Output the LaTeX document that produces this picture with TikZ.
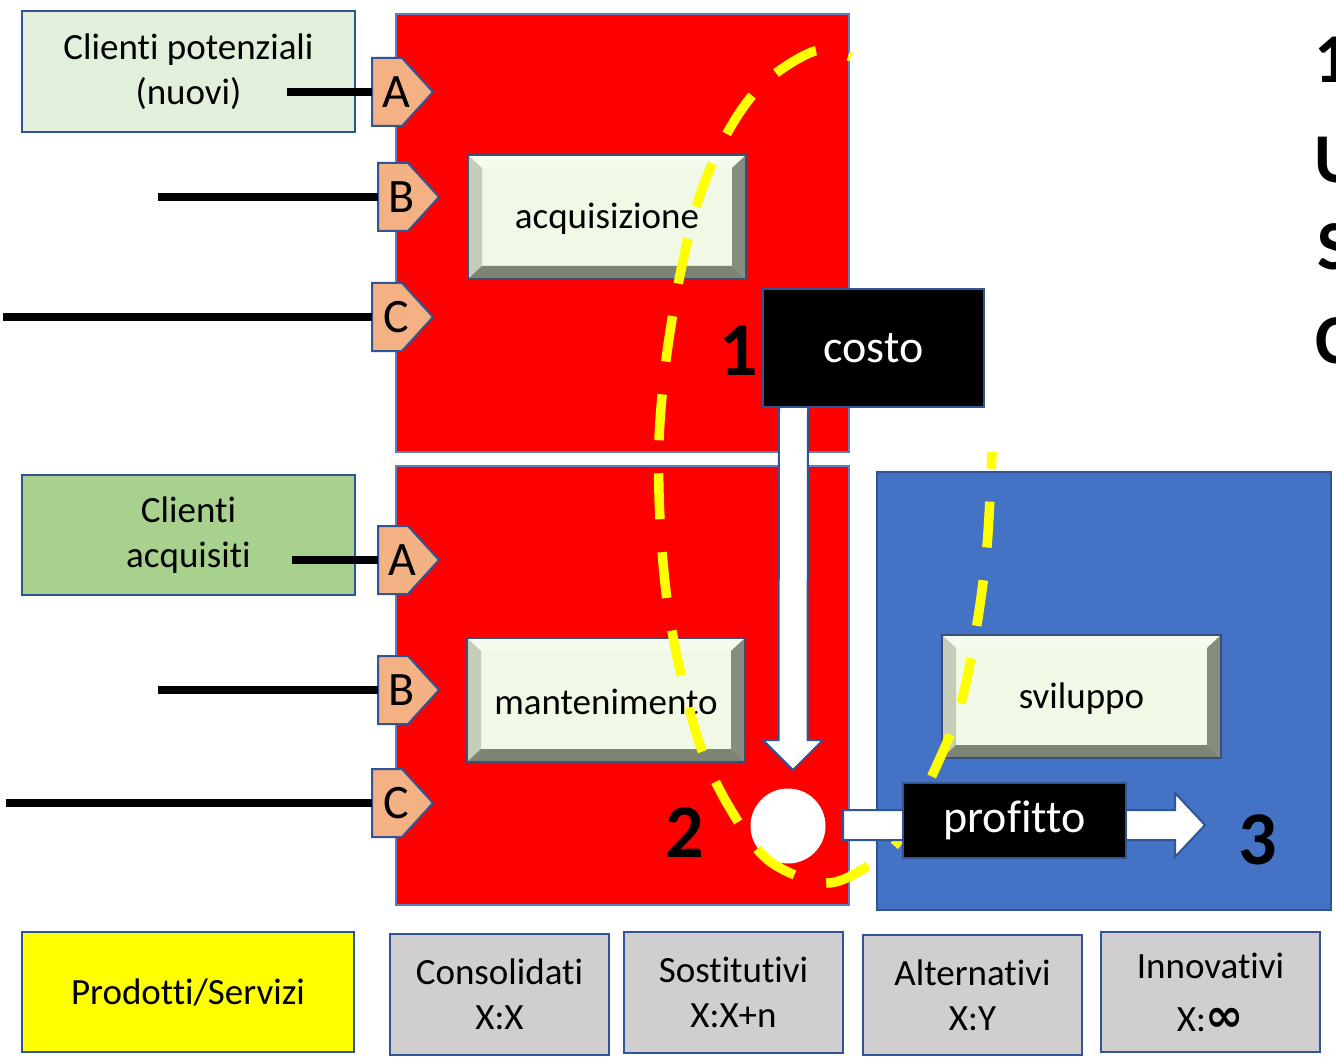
\documentclass[tikz,border=0pt]{standalone}
\usepackage{fontspec}
\setmainfont{Carlito}[Ligatures={NoCommon}]
\newfontfamily\symfont{DejaVu Sans}
\usetikzlibrary{calc}
\definecolor{redf}{HTML}{FF0000}
\definecolor{bluef}{HTML}{4472C4}
\definecolor{bord}{HTML}{2F5597}
\definecolor{redbord}{HTML}{5B7FC0}
\definecolor{lgreen}{HTML}{E2EFDA}
\definecolor{mgreen}{HTML}{A9D18E}
\definecolor{tagf}{HTML}{F4B183}
\definecolor{grayf}{HTML}{D0CECE}
\definecolor{yel}{HTML}{FFFF00}
\definecolor{bvface}{HTML}{EFF9E6}
\definecolor{bvtop}{HTML}{F5FBEE}
\definecolor{bvleft}{HTML}{C4CDB9}
\definecolor{bvright}{HTML}{878D7E}
\definecolor{bvbot}{HTML}{7E8474}
\definecolor{bvline}{HTML}{3B5078}
\tikzset{
  lbl/.style={font=\fontsize{37}{45}\selectfont, align=center, inner sep=0pt},
  cbox/.style={draw=bord, line width=2pt, lbl},
  bignum/.style={font=\fontsize{76}{80}\selectfont\bfseries, inner sep=0pt},
  edgetxt/.style={font=\fontsize{70}{74}\selectfont\bfseries, inner sep=0pt, anchor=base west},
  tagtxt/.style={font=\fontsize{48}{50}\selectfont, inner sep=0pt},
  blkline/.style={line width=7.5pt, black},
  bkbox/.style={fill=black, draw=bord, line width=2pt, text=white, font=\fontsize{46}{50}\selectfont, inner sep=0pt},
  warrow/.style={fill=white, draw=bord, line width=2pt, line join=miter},
  yellowpath/.style={yel, line width=9.5pt, dash pattern=on 46pt off 33pt, dash phase=43pt},
}
\newcommand\bevelbox[6]{%
  \fill[bvface] (#2,#3) rectangle (#4,#5);
  \fill[bvtop] (#2,#3) -- (#4,#3) -- (#4-14,#3+13) -- (#2+14,#3+13) -- cycle;
  \fill[bvleft] (#2,#3) -- (#2+14,#3+13) -- (#2+14,#5-13) -- (#2,#5) -- cycle;
  \fill[bvright] (#4,#3) -- (#4,#5) -- (#4-14,#5-13) -- (#4-14,#3+13) -- cycle;
  \fill[bvbot] (#2,#5) -- (#4,#5) -- (#4-14,#5-13) -- (#2+14,#5-13) -- cycle;
  \draw[bvline, line width=2pt] (#2,#3) rectangle (#4,#5);
  \node[lbl] (#1) at ({(#2+#4)/2},{(#3+#5)/2+2}) {#6};
}
\newcommand\tagbox[4]{%
  \filldraw[fill=tagf, draw=bord, line width=2pt, line join=miter]
    (#2,#3-34) -- (#2+30,#3-34) -- (#2+61,#3) -- (#2+30,#3+34) -- (#2,#3+34) -- cycle;
  \node[tagtxt] (#1) at (#2+24,#3) {#4};
  \coordinate (#1-w) at (#2,#3);
}
\begin{document}
\begin{tikzpicture}[x=1pt,y=-1pt]
\useasboundingbox (0,0) rectangle (1336,1059);
\fill[white] (0,0) rectangle (1336,1059);

% big coloured areas
\filldraw[fill=redf, draw=redbord, line width=2pt] (396,14) rectangle (849,452);
\filldraw[fill=redf, draw=redbord, line width=2pt] (396,466) rectangle (849,905);
\filldraw[fill=bluef, draw=bord, line width=2pt] (877,472) rectangle (1331,910);

% client boxes
\node[cbox, fill=lgreen, minimum width=333, minimum height=121] (cp) at (188.5,71.5) {Clienti potenziali\\(nuovi)};
\node[cbox, fill=mgreen, minimum width=333, minimum height=120] (ca) at (188.5,535) {Clienti\\acquisiti};

% bevel boxes
\bevelbox{acq}{468}{155}{746}{279}{acquisizione}
\bevelbox{man}{467}{638}{745}{762}{mantenimento}
\bevelbox{svi}{942}{635}{1221}{758}{sviluppo}

% tags
\tagbox{tA1}{372}{92}{A}
\tagbox{tB1}{378}{197}{B}
\tagbox{tC1}{372}{317}{C}
\tagbox{tA2}{378}{560}{A}
\tagbox{tB2}{378}{690}{B}
\tagbox{tC2}{372}{803}{C}

% lines into tags
\coordinate (sA1) at (287,92);
\coordinate (sB1) at (158,197);
\coordinate (sC1) at (3,317);
\coordinate (sA2) at (292,560);
\coordinate (sB2) at (158,690);
\coordinate (sC2) at (6,803);
\draw[blkline] (sA1) -- (tA1-w);
\draw[blkline] (sB1) -- (tB1-w);
\draw[blkline] (sC1) -- (tC1-w);
\draw[blkline] (sA2) -- (tA2-w);
\draw[blkline] (sB2) -- (tB2-w);
\draw[blkline] (sC2) -- (tC2-w);

% costo and down arrow
\coordinate (dtop) at (793.5,406);
\coordinate (dtip) at (793,770);
\draw[warrow] ($(dtop)+(-14.5,0)$) -- ($(dtop)+(14.5,0)$) -- ($(dtip)+(14.5,-30)$) -- ($(dtip)+(30,-30)$) -- (dtip)
  -- ($(dtip)+(-30,-30)$) -- ($(dtip)+(-14.5,-30)$) -- cycle;
\node[bkbox, minimum width=221, minimum height=117] (costo) at (873.5,348) {costo};
\node[bignum] (n1) at (739,351) {1};

% circle
\node[circle, fill=white, minimum size=75, inner sep=0pt] (dot) at (788,826) {};
\node[bignum] (n2) at (685,833) {2};

% yellow dashed curve
\draw[yellowpath] plot[smooth, tension=0.55] coordinates {
 (851,57) (815,51) (765,82) (730,128) (700,195) (680,275) (666,360) (659,440)
 (660,520) (667,600) (680,670) (700,745) (728,805) (768,860) (825,883) (868,866)
 (899,840) (930,780) (959,710) (976,630) (987,546) (992,452)};

% horizontal arrow and profitto
\coordinate (hs) at (843,825);
\coordinate (htip) at (1205,825);
\draw[warrow] ($(hs)+(0,-15)$) -- ($(htip)+(-30,-15)$) -- ($(htip)+(-30,-32)$) -- (htip)
  -- ($(htip)+(-30,32)$) -- ($(htip)+(-30,15)$) -- ($(hs)+(0,15)$) -- cycle;
\node[bkbox, minimum width=223, minimum height=75] (prof) at (1014.5,820.5) {profitto};
\node[bignum] (n3) at (1258,840) {3};

% bottom row
\node[cbox, fill=yel, minimum width=332, minimum height=120] (ps) at (188,992) {Prodotti/Servizi};
\node[cbox, fill=grayf, minimum width=219, minimum height=121] (cons) at (499.5,994.5) {Consolidati\\X:X};
\node[cbox, fill=grayf, minimum width=219, minimum height=121] (sost) at (733.5,992.5) {Sostitutivi\\X:X+n};
\node[cbox, fill=grayf, minimum width=219, minimum height=120] (alt) at (972.5,995) {Alternativi\\X:Y};
\node[cbox, fill=grayf, minimum width=219, minimum height=120] (inn) at (1210.5,992) {Innovativi\\[8pt]X:{\symfont\bfseries\fontsize{46}{46}\selectfont ∞}};

% text cut at the right edge
\node[edgetxt] (e1) at (1314,83) {1};
\node[edgetxt] (e2) at (1314,183) {U};
\node[edgetxt] (e3) at (1317,270) {S};
\node[edgetxt] (e4) at (1315,363) {C};
\end{tikzpicture}
\end{document}
